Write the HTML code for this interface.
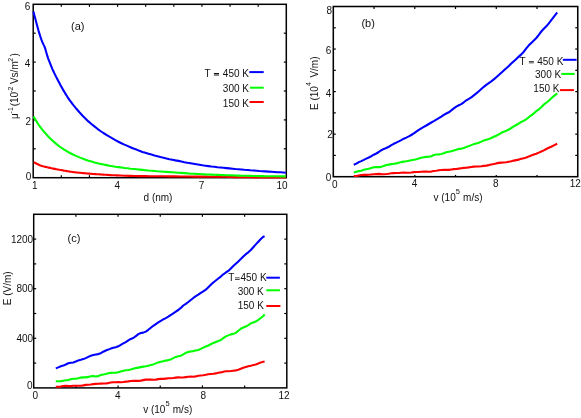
<!DOCTYPE html>
<html><head><meta charset="utf-8"><title>Figure</title>
<style>
html,body{margin:0;padding:0;background:#fff;}
svg{display:block;will-change:transform;}
text{font-family:"Liberation Sans",sans-serif;fill:#111;}
</style></head><body>
<svg width="581" height="418" viewBox="0 0 581 418">
<g stroke="#000" stroke-width="1.2"><line x1="61.32" y1="177.7" x2="61.32" y2="175.2"/><line x1="61.32" y1="4.3" x2="61.32" y2="6.8"/><line x1="89.44" y1="177.7" x2="89.44" y2="175.2"/><line x1="89.44" y1="4.3" x2="89.44" y2="6.8"/><line x1="117.57" y1="4.3" x2="117.57" y2="6.8"/><line x1="145.69" y1="4.3" x2="145.69" y2="6.8"/><line x1="173.81" y1="4.3" x2="173.81" y2="6.8"/><line x1="201.93" y1="4.3" x2="201.93" y2="6.8"/><line x1="230.06" y1="4.3" x2="230.06" y2="6.8"/><line x1="258.18" y1="4.3" x2="258.18" y2="6.8"/><line x1="33.2" y1="148.80" x2="35.7" y2="148.80"/><line x1="286.3" y1="148.80" x2="283.8" y2="148.80"/><line x1="33.2" y1="119.90" x2="35.7" y2="119.90"/><line x1="286.3" y1="119.90" x2="283.8" y2="119.90"/><line x1="33.2" y1="91.00" x2="35.7" y2="91.00"/><line x1="286.3" y1="91.00" x2="283.8" y2="91.00"/><line x1="33.2" y1="62.10" x2="35.7" y2="62.10"/><line x1="286.3" y1="62.10" x2="283.8" y2="62.10"/><line x1="33.2" y1="33.20" x2="35.7" y2="33.20"/><line x1="286.3" y1="33.20" x2="283.8" y2="33.20"/></g><rect x="33.2" y="4.3" width="253.10" height="173.40" fill="none" stroke="#000" stroke-width="1.5"/><polyline points="33.8,162.1 35.3,163.0 36.8,163.8 38.3,164.5 39.8,165.2 41.3,165.7 42.8,166.2 44.3,166.6 45.8,166.9 47.3,167.3 48.8,167.6 50.3,167.9 51.8,168.3 53.3,168.6 54.8,168.9 56.3,169.2 57.8,169.5 59.3,169.8 60.8,170.0 62.3,170.3 63.8,170.6 65.3,170.8 66.8,171.1 68.3,171.3 69.8,171.6 71.3,171.8 72.8,172.0 74.3,172.2 75.8,172.4 77.3,172.5 78.8,172.7 80.3,172.8 81.8,173.0 83.3,173.1 84.8,173.2 86.3,173.4 87.8,173.5 89.3,173.6 90.8,173.7 92.3,173.9 93.8,174.0 95.3,174.1 96.8,174.2 98.3,174.3 99.8,174.4 101.3,174.5 102.8,174.6 104.3,174.7 105.8,174.8 107.3,174.9 108.8,175.0 110.3,175.1 111.8,175.2 113.3,175.2 114.8,175.3 116.3,175.4 117.8,175.4 119.3,175.5 120.0,175.5 125.0,175.7 130.0,175.9 135.0,176.0 140.0,176.1 145.0,176.1 150.0,176.2 155.0,176.2 160.0,176.3 165.0,176.3 170.0,176.4 175.0,176.4 180.0,176.5 185.0,176.5 190.0,176.5 195.0,176.6 200.0,176.6 205.0,176.6 210.0,176.7 215.0,176.7 220.0,176.7 225.0,176.8 230.0,176.9 235.0,177.1 240.0,177.2 245.0,177.3 250.0,177.3 255.0,177.4 260.0,177.4 265.0,177.4 270.0,177.5 275.0,177.5 280.0,177.5 285.8,177.5" fill="none" stroke="#f00" stroke-width="2.1" stroke-linejoin="round" stroke-linecap="butt"/><polyline points="33.5,116.5 34.5,118.1 35.5,119.8 36.5,121.4 37.5,123.0 38.5,124.5 39.5,126.0 40.5,127.3 41.5,128.6 42.5,129.8 43.5,131.1 44.5,132.2 45.5,133.4 46.5,134.5 47.5,135.6 48.5,136.7 49.5,137.8 50.5,138.7 51.5,139.7 52.5,140.6 53.5,141.5 54.5,142.4 55.5,143.2 56.5,144.1 57.5,144.9 58.5,145.7 59.5,146.5 60.5,147.2 61.5,147.8 62.5,148.5 63.5,149.2 64.5,149.8 65.5,150.4 66.5,151.0 67.5,151.6 68.5,152.2 69.5,152.7 70.5,153.2 71.5,153.7 72.5,154.2 73.5,154.7 76.5,156.1 79.5,157.4 82.5,158.6 85.5,159.7 88.5,160.7 91.5,161.6 94.5,162.5 97.5,163.2 100.5,163.9 103.5,164.5 106.5,165.1 109.5,165.7 112.5,166.2 115.5,166.7 118.5,167.1 121.5,167.5 124.5,168.0 127.5,168.3 130.5,168.7 133.5,169.0 136.5,169.3 139.5,169.6 142.5,169.9 145.5,170.2 148.5,170.5 151.5,170.7 154.5,171.0 157.5,171.3 160.5,171.5 163.5,171.7 166.5,171.9 169.5,172.1 172.5,172.3 175.5,172.5 178.5,172.7 181.5,172.9 184.5,173.1 187.5,173.4 190.5,173.6 193.5,173.7 196.5,173.9 199.5,174.0 202.5,174.2 205.5,174.4 208.5,174.5 211.5,174.6 214.5,174.8 217.5,174.9 220.5,175.0 223.5,175.1 226.5,175.2 229.5,175.3 232.5,175.4 235.5,175.5 238.5,175.6 241.5,175.7 244.5,175.8 247.5,175.8 250.5,175.9 253.5,176.0 256.5,176.0 259.5,176.1 262.5,176.1 265.5,176.2 268.5,176.2 271.5,176.3 274.5,176.3 277.5,176.3 280.5,176.4 283.5,176.4 285.8,176.4" fill="none" stroke="#0f0" stroke-width="2.1" stroke-linejoin="round" stroke-linecap="butt"/><polyline points="33.4,11.5 34.4,15.4 35.4,19.1 36.4,22.9 37.4,26.6 38.4,30.3 39.4,33.6 40.4,36.7 41.4,39.7 42.4,42.2 43.4,44.4 44.4,46.4 45.4,49.2 46.4,52.8 47.4,56.2 48.4,59.1 49.4,61.7 50.4,64.2 51.4,66.7 52.4,69.1 53.4,71.3 54.4,73.4 55.4,75.4 56.4,77.4 57.4,79.3 58.4,81.2 59.4,83.1 60.4,85.0 61.4,86.8 62.4,88.6 63.4,90.4 64.4,92.0 65.4,93.6 66.4,95.2 67.4,96.8 68.4,98.3 69.4,99.8 70.4,101.2 71.4,102.5 72.4,103.8 73.4,105.1 73.4,105.1 76.4,108.8 79.4,112.3 82.4,115.5 85.4,118.5 88.4,121.4 91.4,124.0 94.4,126.4 97.4,128.8 100.4,131.0 103.4,133.0 106.4,134.9 109.4,136.7 112.4,138.4 115.4,140.1 118.4,141.7 121.4,143.2 124.4,144.6 127.4,145.9 130.4,147.2 133.4,148.5 136.4,149.6 139.4,150.8 142.4,151.9 145.4,152.8 148.4,153.7 151.4,154.6 154.4,155.5 157.4,156.3 160.4,157.1 163.4,157.8 166.4,158.5 169.4,159.2 172.4,159.8 175.4,160.4 178.4,160.9 181.4,161.5 184.4,162.2 187.4,162.8 190.4,163.3 193.4,163.8 196.4,164.3 199.4,164.8 202.4,165.3 205.4,165.7 208.4,166.1 211.4,166.5 214.4,166.8 217.4,167.2 220.4,167.5 223.4,167.8 226.4,168.1 229.4,168.4 232.4,168.7 235.4,169.0 238.4,169.2 241.4,169.5 244.4,169.8 247.4,170.0 250.4,170.3 253.4,170.5 256.4,170.7 259.4,171.0 262.4,171.2 265.4,171.4 268.4,171.6 271.4,171.8 274.4,172.0 277.4,172.2 280.4,172.3 283.4,172.5 285.8,172.7" fill="none" stroke="#00f" stroke-width="2.1" stroke-linejoin="round" stroke-linecap="butt"/><g stroke="#000" stroke-width="1.2"><line x1="374.04" y1="6.5" x2="374.04" y2="9.0"/><line x1="414.78" y1="176.7" x2="414.78" y2="174.89999999999998"/><line x1="414.78" y1="6.5" x2="414.78" y2="9.0"/><line x1="455.52" y1="176.7" x2="455.52" y2="174.89999999999998"/><line x1="455.52" y1="6.5" x2="455.52" y2="9.0"/><line x1="496.27" y1="176.7" x2="496.27" y2="174.89999999999998"/><line x1="496.27" y1="6.5" x2="496.27" y2="9.0"/><line x1="537.01" y1="176.7" x2="537.01" y2="174.89999999999998"/><line x1="537.01" y1="6.5" x2="537.01" y2="9.0"/><line x1="333.3" y1="155.42" x2="335.8" y2="155.42"/><line x1="577.75" y1="155.42" x2="575.25" y2="155.42"/><line x1="333.3" y1="134.15" x2="335.8" y2="134.15"/><line x1="577.75" y1="134.15" x2="575.25" y2="134.15"/><line x1="333.3" y1="112.88" x2="335.8" y2="112.88"/><line x1="577.75" y1="112.88" x2="575.25" y2="112.88"/><line x1="333.3" y1="91.60" x2="335.8" y2="91.60"/><line x1="577.75" y1="91.60" x2="575.25" y2="91.60"/><line x1="333.3" y1="70.32" x2="335.8" y2="70.32"/><line x1="577.75" y1="70.32" x2="575.25" y2="70.32"/><line x1="333.3" y1="49.05" x2="335.8" y2="49.05"/><line x1="577.75" y1="49.05" x2="575.25" y2="49.05"/><line x1="333.3" y1="27.78" x2="335.8" y2="27.78"/><line x1="577.75" y1="27.78" x2="575.25" y2="27.78"/></g><rect x="333.3" y="6.5" width="244.45" height="170.20" fill="none" stroke="#000" stroke-width="1.55"/><polyline points="353.8,176.0 356.3,176.0 358.8,175.5 361.3,175.0 363.8,174.9 366.3,174.9 368.8,174.7 371.3,174.5 373.8,174.3 376.3,174.1 378.8,173.9 381.3,174.1 383.8,174.2 386.3,174.0 388.8,173.7 391.3,173.3 393.8,173.1 396.3,173.0 398.8,173.0 401.3,172.7 403.8,172.5 406.3,172.7 408.8,172.8 411.3,172.5 413.8,172.1 416.3,172.0 418.8,172.0 421.3,171.8 423.8,171.6 426.3,171.6 428.8,171.7 431.3,171.6 433.8,171.0 436.3,170.7 438.8,170.3 441.3,170.0 443.8,169.9 446.3,169.9 448.8,169.9 451.3,169.5 453.8,169.1 456.3,169.0 458.8,168.6 461.3,168.2 463.8,167.9 466.3,167.7 468.8,167.4 471.3,167.0 473.8,166.6 476.3,166.5 478.8,166.5 481.3,166.3 483.8,165.9 486.3,165.6 488.8,165.1 491.3,164.5 493.8,164.0 496.3,163.4 498.8,162.9 501.3,162.6 503.8,162.5 506.3,162.2 508.8,161.7 511.3,161.3 513.8,160.6 516.3,160.1 518.8,159.6 521.3,158.8 523.8,158.2 526.3,157.5 528.8,156.4 531.3,155.5 533.8,154.6 536.3,153.7 538.8,152.6 541.3,151.5 543.8,150.4 546.3,149.0 548.8,147.8 551.3,146.7 553.8,145.4 556.3,144.2 557.2,143.7" fill="none" stroke="#f00" stroke-width="2.1" stroke-linejoin="round" stroke-linecap="butt"/><polyline points="353.8,172.6 356.3,171.7 358.8,171.1 361.3,170.7 363.8,169.8 366.3,169.2 368.8,168.8 371.3,168.0 373.8,167.3 376.3,167.0 378.8,167.1 381.3,166.9 383.8,165.9 386.3,165.0 388.8,164.6 391.3,164.1 393.8,163.8 396.3,163.4 398.8,162.7 401.3,162.1 403.8,161.6 406.3,161.3 408.8,160.8 411.3,160.2 413.8,159.7 416.3,159.2 418.8,158.5 421.3,157.7 423.8,157.2 426.3,156.9 428.8,156.7 431.3,156.2 433.8,155.0 436.3,154.5 438.8,154.4 441.3,154.0 443.8,153.2 446.3,152.2 448.8,151.7 451.3,151.2 453.8,150.5 456.3,149.7 458.8,148.9 461.3,148.8 463.8,148.1 466.3,146.9 468.8,146.1 471.3,145.1 473.8,144.1 476.3,143.4 478.8,142.7 481.3,141.6 483.8,140.5 486.3,139.7 488.8,138.9 491.3,138.0 493.8,136.7 496.3,135.7 498.8,134.4 501.3,132.8 503.8,131.7 506.3,130.7 508.8,129.5 511.3,128.0 513.8,126.4 516.3,125.0 518.8,123.5 521.3,121.9 523.8,120.8 526.3,119.2 528.8,117.2 531.3,115.3 533.8,113.4 536.3,111.2 538.8,109.3 541.3,107.2 543.8,104.6 546.3,102.7 548.8,100.7 551.3,98.2 553.8,96.1 556.3,94.2 557.2,93.3" fill="none" stroke="#0f0" stroke-width="2.1" stroke-linejoin="round" stroke-linecap="butt"/><polyline points="353.8,164.8 356.3,163.6 358.8,162.1 361.3,161.1 363.8,159.9 366.3,158.6 368.8,157.5 371.3,156.2 373.8,154.7 376.3,153.5 378.8,152.0 381.3,150.2 383.8,148.9 386.3,148.0 388.8,146.8 391.3,145.2 393.8,143.8 396.3,142.6 398.8,141.4 401.3,140.1 403.8,138.7 406.3,137.6 408.8,136.4 411.3,135.0 413.8,133.4 416.3,131.6 418.8,129.9 421.3,128.3 423.8,126.9 426.3,125.5 428.8,124.0 431.3,122.5 433.8,121.1 436.3,119.6 438.8,118.2 441.3,116.6 443.8,114.9 446.3,113.5 448.8,112.3 451.3,110.4 453.8,108.4 456.3,106.6 458.8,105.3 461.3,104.1 463.8,102.3 466.3,100.3 468.8,98.9 471.3,97.4 473.8,95.4 476.3,93.4 478.8,91.3 481.3,89.0 483.8,86.8 486.3,84.9 488.8,83.1 491.3,81.3 493.8,79.4 496.3,77.2 498.8,75.0 501.3,72.7 503.8,70.4 506.3,68.3 508.8,66.0 511.3,63.5 513.8,61.2 516.3,58.9 518.8,56.6 521.3,54.4 523.8,51.7 526.3,48.3 528.8,45.3 531.3,42.9 533.8,40.6 536.3,38.0 538.8,34.8 541.3,31.5 543.8,28.8 546.3,26.3 548.8,23.3 551.3,20.1 553.8,16.8 556.3,13.6 557.2,12.5" fill="none" stroke="#00f" stroke-width="2.1" stroke-linejoin="round" stroke-linecap="butt"/><g stroke="#000" stroke-width="1.2"><line x1="75.88" y1="387.9" x2="75.88" y2="385.4"/><line x1="75.88" y1="214.3" x2="75.88" y2="216.8"/><line x1="118.07" y1="387.9" x2="118.07" y2="385.4"/><line x1="118.07" y1="214.3" x2="118.07" y2="216.8"/><line x1="160.25" y1="387.9" x2="160.25" y2="385.4"/><line x1="160.25" y1="214.3" x2="160.25" y2="216.8"/><line x1="202.43" y1="387.9" x2="202.43" y2="385.4"/><line x1="202.43" y1="214.3" x2="202.43" y2="216.8"/><line x1="244.62" y1="387.9" x2="244.62" y2="385.4"/><line x1="244.62" y1="214.3" x2="244.62" y2="216.8"/><line x1="33.7" y1="363.10" x2="36.2" y2="363.10"/><line x1="286.8" y1="363.10" x2="284.3" y2="363.10"/><line x1="33.7" y1="338.30" x2="36.2" y2="338.30"/><line x1="286.8" y1="338.30" x2="284.3" y2="338.30"/><line x1="33.7" y1="313.50" x2="36.2" y2="313.50"/><line x1="286.8" y1="313.50" x2="284.3" y2="313.50"/><line x1="33.7" y1="288.70" x2="36.2" y2="288.70"/><line x1="286.8" y1="288.70" x2="284.3" y2="288.70"/><line x1="33.7" y1="263.90" x2="36.2" y2="263.90"/><line x1="286.8" y1="263.90" x2="284.3" y2="263.90"/><line x1="33.7" y1="239.10" x2="36.2" y2="239.10"/><line x1="286.8" y1="239.10" x2="284.3" y2="239.10"/></g><rect x="33.7" y="214.3" width="253.10" height="173.60" fill="none" stroke="#000" stroke-width="1.48"/><polyline points="55.8,386.8 58.3,386.8 60.8,386.6 63.3,386.0 65.8,385.7 68.3,386.1 70.8,386.1 73.3,385.7 75.8,385.7 78.3,385.8 80.8,385.8 83.3,385.4 85.8,384.9 88.3,384.8 90.8,384.5 93.3,384.1 95.8,383.9 98.3,383.7 100.8,383.6 103.3,383.5 105.8,383.4 108.3,383.1 110.8,382.5 113.3,382.3 115.8,382.3 118.3,382.1 120.8,382.2 123.3,382.0 125.8,381.6 128.3,381.4 130.8,381.0 133.3,380.7 135.8,380.9 138.3,380.9 140.8,380.6 143.3,380.1 145.8,379.6 148.3,379.5 150.8,379.6 153.3,379.7 155.8,379.6 158.3,379.1 160.8,378.9 163.3,378.9 165.8,378.6 168.3,378.3 170.8,378.3 173.3,378.0 175.8,377.6 178.3,377.4 180.8,377.5 183.3,377.5 185.8,377.1 188.3,376.7 190.8,376.6 193.3,376.8 195.8,376.4 198.3,375.7 200.8,375.5 203.3,375.3 205.8,374.8 208.3,374.2 210.8,374.0 213.3,373.8 215.8,373.4 218.3,372.8 220.8,372.4 223.3,371.7 225.8,371.2 228.3,371.2 230.8,371.0 233.3,370.7 235.8,370.4 238.3,369.8 240.8,368.8 243.3,367.8 245.8,367.0 248.3,366.2 250.8,365.7 253.3,365.1 255.8,364.4 258.3,363.5 260.8,362.4 263.3,361.7 264.6,361.4" fill="none" stroke="#f00" stroke-width="2.1" stroke-linejoin="round" stroke-linecap="butt"/><polyline points="55.8,381.2 58.3,381.3 60.8,381.3 63.3,380.7 65.8,380.3 68.3,380.1 70.8,379.3 73.3,378.8 75.8,378.7 78.3,378.2 80.8,377.6 83.3,377.4 85.8,377.4 88.3,376.9 90.8,376.2 93.3,376.0 95.8,376.5 98.3,376.1 100.8,375.0 103.3,374.5 105.8,373.9 108.3,373.2 110.8,372.9 113.3,372.8 115.8,372.8 118.3,372.3 120.8,371.5 123.3,370.8 125.8,370.3 128.3,370.0 130.8,369.5 133.3,368.7 135.8,368.1 138.3,367.6 140.8,367.1 143.3,366.6 145.8,366.2 148.3,365.7 150.8,365.1 153.3,364.4 155.8,363.4 158.3,362.4 160.8,361.8 163.3,361.2 165.8,360.6 168.3,360.1 170.8,359.4 173.3,358.1 175.8,356.9 178.3,356.2 180.8,355.7 183.3,354.4 185.8,352.8 188.3,351.9 190.8,351.5 193.3,351.1 195.8,350.5 198.3,350.0 200.8,348.9 203.3,347.6 205.8,346.5 208.3,345.5 210.8,344.2 213.3,342.9 215.8,342.0 218.3,341.1 220.8,340.0 223.3,338.1 225.8,336.4 228.3,335.4 230.8,334.4 233.3,333.9 235.8,332.9 238.3,330.7 240.8,328.7 243.3,327.5 245.8,326.6 248.3,325.1 250.8,323.4 253.3,322.4 255.8,321.5 258.3,319.8 260.8,318.0 263.3,316.0 264.6,314.3" fill="none" stroke="#0f0" stroke-width="2.1" stroke-linejoin="round" stroke-linecap="butt"/><polyline points="55.8,368.4 58.3,367.4 60.8,366.3 63.3,365.6 65.8,364.5 68.3,363.3 70.8,362.8 73.3,362.5 75.8,361.5 78.3,360.4 80.8,359.8 83.3,359.1 85.8,358.1 88.3,356.9 90.8,355.8 93.3,355.1 95.8,354.5 98.3,354.1 100.8,353.2 103.3,351.7 105.8,350.5 108.3,349.6 110.8,348.6 113.3,347.7 115.8,347.2 118.3,346.3 120.8,344.8 123.3,343.4 125.8,342.1 128.3,340.4 130.8,338.9 133.3,338.0 135.8,336.2 138.3,334.1 140.8,333.0 143.3,332.6 145.8,331.6 148.3,329.8 150.8,327.8 153.3,325.8 155.8,324.1 158.3,322.4 160.8,320.8 163.3,319.4 165.8,318.1 168.3,316.6 170.8,315.0 173.3,313.3 175.8,311.6 178.3,310.0 180.8,307.9 183.3,305.5 185.8,303.8 188.3,302.0 190.8,300.0 193.3,298.0 195.8,296.1 198.3,294.6 200.8,292.9 203.3,291.3 205.8,289.7 208.3,287.3 210.8,284.8 213.3,282.5 215.8,280.5 218.3,278.5 220.8,276.6 223.3,274.3 225.8,272.5 228.3,270.9 230.8,268.6 233.3,266.1 235.8,263.8 238.3,261.4 240.8,259.1 243.3,256.6 245.8,254.2 248.3,252.3 250.8,250.0 253.3,247.2 255.8,244.4 258.3,241.7 260.8,239.0 263.3,236.7 264.6,236.2" fill="none" stroke="#00f" stroke-width="2.1" stroke-linejoin="round" stroke-linecap="butt"/><line x1="249.3" y1="72.1" x2="263.7" y2="72.1" stroke="#00f" stroke-width="2.0"/><line x1="250" y1="87.7" x2="263.7" y2="87.7" stroke="#0f0" stroke-width="2.0"/><line x1="249.5" y1="102" x2="263.7" y2="102" stroke="#f00" stroke-width="2.0"/><line x1="562.8" y1="59.8" x2="576.6" y2="59.8" stroke="#00f" stroke-width="2.0"/><line x1="561.3" y1="73.9" x2="574.7" y2="73.9" stroke="#0f0" stroke-width="2.0"/><line x1="559.9" y1="90.1" x2="574.0" y2="90.1" stroke="#f00" stroke-width="2.0"/><line x1="266.3" y1="277.7" x2="279.9" y2="277.7" stroke="#00f" stroke-width="2.0"/><line x1="266.3" y1="290.3" x2="279.9" y2="290.3" stroke="#0f0" stroke-width="2.0"/><line x1="266.3" y1="306.0" x2="280.4" y2="306.0" stroke="#f00" stroke-width="2.0"/>
<g opacity="0.999"><text x="30.4" y="10.2" font-size="10" text-anchor="end" >6</text><text x="30.4" y="66.5" font-size="10" text-anchor="end" >4</text><text x="31.0" y="124.6" font-size="10" text-anchor="end" >2</text><text x="31.2" y="180.4" font-size="10" text-anchor="end" >0</text><text x="34.7" y="188.8" font-size="10" text-anchor="middle" >1</text><text x="117.4" y="188.8" font-size="10" text-anchor="middle" >4</text><text x="201.6" y="188.8" font-size="10" text-anchor="middle" >7</text><text x="287.6" y="188.8" font-size="10" text-anchor="end" >10</text><text x="158" y="201" font-size="10" text-anchor="middle" >d (nm)</text><text x="71" y="29.6" font-size="11" text-anchor="start" >(a)</text><text transform="translate(18.3,118.9) rotate(-90)" font-size="10">μ<tspan dx="-0.3" dy="-5.7" font-size="7">-1</tspan><tspan dy="5.7" dx="-1.9"> (10</tspan><tspan dy="-5.7" font-size="7" dx="-1.0">-2</tspan><tspan dy="5.7" dx="-0.2"> Vs/m</tspan><tspan dy="-5.7" font-size="7" dx="-0.6">2</tspan><tspan dy="5.7" dx="-1.4"> )</tspan></text><text x="204.6" y="76.5" font-size="10" text-anchor="start" >T</text><path d="M213.9 73.1h5.1v0.85h-5.1zM213.9 74.6h5.1v0.85h-5.1z" fill="#111"/><text x="249.0" y="76.5" font-size="10" text-anchor="end" >450 K</text><text x="249.0" y="91.6" font-size="10" text-anchor="end" >300 K</text><text x="249.0" y="106.7" font-size="10" text-anchor="end" >150 K</text><text x="332.1" y="13.6" font-size="10" text-anchor="end" >8</text><text x="331.4" y="53.6" font-size="10" text-anchor="end" >6</text><text x="331.2" y="97.2" font-size="10" text-anchor="end" >4</text><text x="332.7" y="138.2" font-size="10" text-anchor="end" >2</text><text x="331.3" y="180.6" font-size="10" text-anchor="end" >0</text><text x="334.7" y="187.9" font-size="10" text-anchor="middle" >0</text><text x="414.6" y="187.3" font-size="10" text-anchor="middle" >4</text><text x="495.9" y="187.3" font-size="10" text-anchor="middle" >8</text><text x="580.9" y="187.1" font-size="10" text-anchor="end" >12</text><text x="433.5" y="201" font-size="10">v (10<tspan dy="-6.6" font-size="7.5">5</tspan><tspan dy="6.6" dx="0.4"> m/s)</tspan></text><text x="361.4" y="27.3" font-size="11" text-anchor="start" >(b)</text><text transform="translate(318.3,110.0) rotate(-90)" font-size="10">E (10<tspan dy="-7.0" font-size="7">4</tspan><tspan dy="7.0" dx="1.8"> V/m)</tspan></text><text x="519.5" y="64.6" font-size="10" text-anchor="start" >T</text><path d="M528.9 60.9h5.0v0.85h-5.0zM528.9 62.4h5.0v0.85h-5.0z" fill="#111"/><text x="563.4" y="64.6" font-size="10" text-anchor="end" >450 K</text><text x="561.2" y="77.5" font-size="10" text-anchor="end" >300 K</text><text x="559.5" y="91.8" font-size="10" text-anchor="end" >150 K</text><text x="33.2" y="242.8" font-size="10" text-anchor="end" >1200</text><text x="33.2" y="291.7" font-size="10" text-anchor="end" >800</text><text x="33.2" y="342.0" font-size="10" text-anchor="end" >400</text><text x="32.5" y="389.4" font-size="10" text-anchor="end" >0</text><text x="35.4" y="399.1" font-size="10" text-anchor="middle" >0</text><text x="117.8" y="399.1" font-size="10" text-anchor="middle" >4</text><text x="203.4" y="399.1" font-size="10" text-anchor="middle" >8</text><text x="289.6" y="399.1" font-size="10" text-anchor="end" >12</text><text x="143.2" y="413" font-size="10">v (10<tspan dy="-6.6" font-size="7.5">5</tspan><tspan dy="6.6" dx="0.4"> m/s)</tspan></text><text x="67.6" y="242.3" font-size="11" text-anchor="start" >(c)</text><text transform="translate(11.4,305.3) rotate(-90)" font-size="10">E (V/m)</text><text x="228.2" y="280.8" font-size="10" text-anchor="start" >T</text><path d="M235.0 277.45h4.7v0.85h-4.7zM235.0 278.95h4.7v0.85h-4.7z" fill="#111"/><text x="266.6" y="280.8" font-size="10" text-anchor="end" >450 K</text><text x="263.8" y="295.2" font-size="10" text-anchor="end" >300 K</text><text x="263.9" y="308.8" font-size="10" text-anchor="end" >150 K</text></g>
</svg>
</body></html>
